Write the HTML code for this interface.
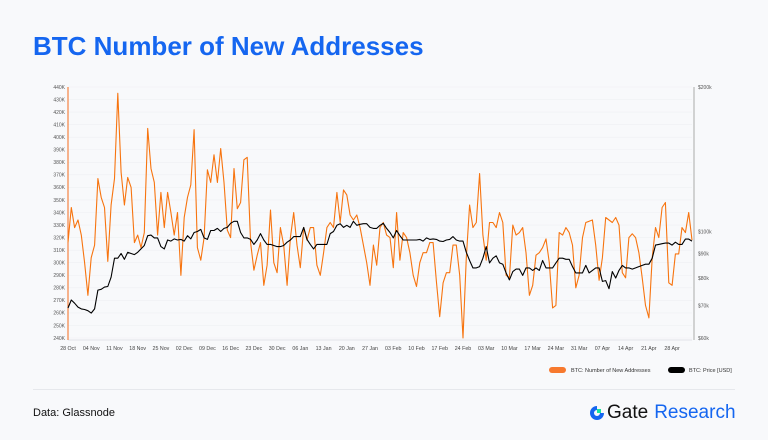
<!DOCTYPE html>
<html><head><meta charset="utf-8">
<style>
html,body{margin:0;padding:0;background:#f8f9fb;}
body{width:768px;height:440px;position:relative;overflow:hidden;font-family:"Liberation Sans",sans-serif;}
#title{position:absolute;left:33px;top:31px;font-size:26px;font-weight:bold;color:#1566f0;letter-spacing:0;margin:0;}
#chart{position:absolute;left:0;top:0;}
#footer-line{position:absolute;left:33px;top:389px;width:702px;height:1px;background:#e6e8ec;}
#source{position:absolute;left:33px;top:407px;font-size:11px;color:#111;}
#logo{position:absolute;left:589px;top:402px;font-size:19px;color:#111;display:flex;align-items:center;}
</style></head>
<body>
<h1 id="title">BTC Number of New Addresses</h1>
<svg id="chart" width="768" height="440"></svg>
<div id="footer-line"></div>
<div id="source">Data: Glassnode</div>
<div id="logo">
<svg width="16" height="16" viewBox="0 0 16 16"><path d="M8 1a7 7 0 1 0 7 7h-4a3 3 0 1 1-3-3z" fill="#1566f0"/><rect x="8" y="4" width="4" height="4" fill="#17e6a1"/></svg>
<span style="margin-left:2px;">Gate</span><span style="margin-left:6px;color:#1566f0;">Research</span>
</div>
<script>
const addresses=[316,344,328,334,322,300,274,304,314,367,352,344,301,346,367,435,372,346,368,360,316,322,312,324,407,375,364,322,356,328,356,340,322,340,290,336,352,362,406,312,302,320,374,364,386,364,391,364,326,320,375,343,348,382,384,316,294,306,316,282,298,342,300,292,328,314,282,320,340,314,296,328,318,328,328,298,290,308,328,332,328,356,332,358,354,338,334,338,328,314,300,282,314,298,328,332,322,320,296,340,302,324,320,308,290,281,300,308,308,316,316,285,257,284,292,292,314,314,290,240,304,346,328,332,371,322,302,332,332,328,340,332,290,288,330,322,324,328,308,274,282,306,308,312,319,300,264,266,324,322,328,324,314,280,290,320,332,333,334,314,286,304,336,334,332,336,330,292,288,320,323,320,308,288,266,256,304,328,320,344,348,284,282,307,307,328,324,340,318];
const prices=[69.3,72,70.9,69.6,69,68.8,68.4,67.6,69,75.5,75.8,76.6,76.8,80.3,88,88,90,87.5,90.5,90,89.5,90.5,92,93.5,98,98.3,97,97,93,92,96,95.5,96.5,96,96.3,95.5,98,96.5,99.5,100,101,97,96.3,100.5,100.5,101.5,100,101.5,102,104,105,105,99.5,97,97,96.3,94,96,99,96,94,94,93.5,93,93,93.5,95,96,97.6,97.6,97.6,102,96.3,94,92,94,94,94,94,99,100,103,103.8,102,103,102,105,103,103.5,103.8,103.8,102,101.5,101.5,103,104,101.5,99.5,97,100.5,98,96,96,96,96,96,96.3,95.5,97,96.3,96.5,96.3,95.5,95.3,96,96.3,97.6,96,95.5,95.5,90.5,87,84,84,84.5,88,93,86,88,89,86,85.5,82,79.3,82.5,83.5,83.5,81,84,84,83,84,83,87,84,84,84,86,88,88,87.5,87.5,84.5,82,82,82,85,82,83,84,84,78.7,79,76,82.5,80,83,85,84,84,83.5,84,84.5,85,85.5,85.5,88,93.7,94,94.3,94.6,94.6,93.7,95,94,94,96.4,96.4,95.5];
const leftTicks=[240,250,260,270,280,290,300,310,320,330,340,350,360,370,380,390,400,410,420,430,440];
const rightTicks=[60,70,80,90,100,200];
const rightLabels=["$60k","$70k","$80k","$90k","$100k","$200k"];
const xLabels=["28 Oct","04 Nov","11 Nov","18 Nov","25 Nov","02 Dec","09 Dec","16 Dec","23 Dec","30 Dec","06 Jan","13 Jan","20 Jan","27 Jan","03 Feb","10 Feb","17 Feb","24 Feb","03 Mar","10 Mar","17 Mar","24 Mar","31 Mar","07 Apr","14 Apr","21 Apr","28 Apr"];

const svg=document.getElementById('chart');
const NS='http://www.w3.org/2000/svg';
const X0=68,X1=692,YT=87,YB=338;
const n=addresses.length;
const xs=i=>X0+i*(X1-X0)/(n-1);
const yL=v=>YB-(v-240)/(440-240)*(YB-YT);
const yR=v=>YB-Math.log(v/60)/Math.log(200/60)*(YB-YT);
function mk(tag,attrs,parent){const e=document.createElementNS(NS,tag);for(const k in attrs)e.setAttribute(k,attrs[k]);(parent||svg).appendChild(e);return e;}

const grid=mk('g',{});


leftTicks.forEach(t=>{
  const l=mk('line',{x1:X0,x2:X1,y1:yL(t),y2:yL(t),stroke:'#eef0f3','stroke-width':0.6},grid);
  
  
  const tx=mk('text',{x:X0-3,y:yL(t)+1.8,'font-size':5,'text-anchor':'end',fill:'#555'});
  tx.textContent=t+'K';
  
  
});
rightTicks.forEach((t,i)=>{
  const tx=mk('text',{x:X1+6,y:yR(t)+1.8,'font-size':5,fill:'#555'});
  tx.textContent=rightLabels[i];
  
  
});
xLabels.forEach((lab,i)=>{
  const tx=mk('text',{x:xs(i*7),y:350,'font-size':5.3,'text-anchor':'middle',fill:'#444'});
  tx.textContent=lab;
  
  
});
const xa=mk('line',{x1:X0,x2:X1,y1:YB+2,y2:YB+2,stroke:'#e2e4e8','stroke-width':1});


const la=mk('line',{x1:X0,x2:X0,y1:YT,y2:YB+2,stroke:'#f36b1c','stroke-width':1});


const ra=mk('line',{x1:X1+2,x2:X1+2,y1:YT,y2:YB+2,stroke:'#aaa','stroke-width':1});



const p1=mk('polyline',{points:addresses.map((v,i)=>xs(i).toFixed(1)+','+yL(v).toFixed(1)).join(' '),fill:'none',stroke:'#f7740f','stroke-width':1.1,'stroke-linejoin':'round'});


const p2=mk('polyline',{points:prices.map((v,i)=>xs(i).toFixed(1)+','+yR(v).toFixed(1)).join(' '),fill:'none',stroke:'#000','stroke-width':1.1,'stroke-linejoin':'round'});



const lg=mk('g',{});


const s1=mk('rect',{x:549,y:367,width:17,height:6,rx:3,fill:'#f7792e'},lg);


const t1=mk('text',{x:571,y:372,'font-size':5.5,fill:'#333'},lg);
t1.textContent='BTC: Number of New Addresses';


const s2=mk('rect',{x:668,y:367,width:17,height:6,rx:3,fill:'#000'},lg);


const t2=mk('text',{x:689,y:372,'font-size':5.5,fill:'#333'},lg);
t2.textContent='BTC: Price [USD]';


</script>
</body></html>
